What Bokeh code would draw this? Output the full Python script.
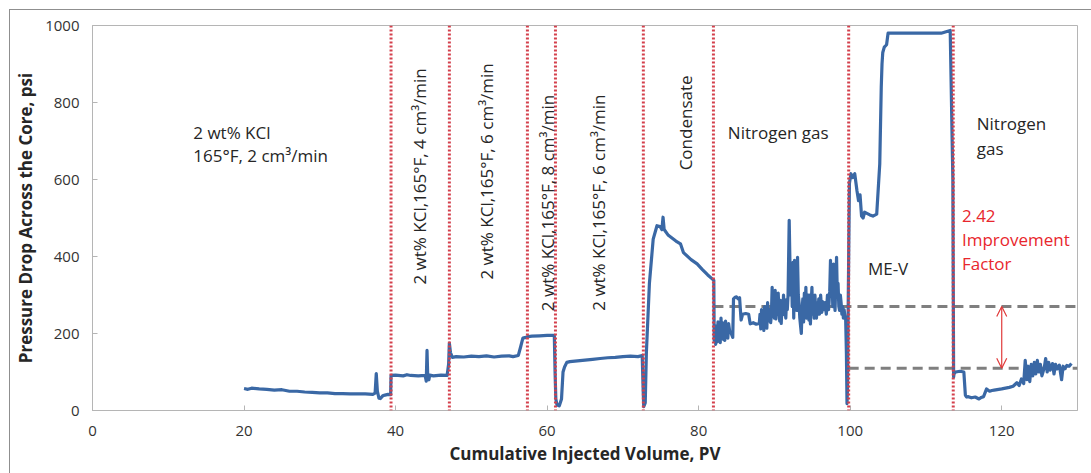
from bokeh.plotting import figure
from bokeh.layouts import column
from bokeh.models import Label, Span, Arrow, OpenHead, ColumnDataSource
from bokeh.embed import file_html
from bokeh.resources import INLINE

# ---------------- data ----------------
pv_kcl_2 = [20.0, 20.5, 21, 22, 23, 24, 25, 26, 27, 28, 29, 30, 31, 32, 33, 34, 35, 36, 37, 37.3, 37.45, 37.6, 37.8, 38.0, 38.3, 38.6, 39.0, 39.35]
dp_kcl_2 = [57, 55, 58, 56, 55, 53, 54, 50, 50, 48, 47, 46, 46, 44, 44, 43, 43, 43, 42, 45, 96, 50, 32, 31, 38, 40, 42, 41]

pv_kcl_4 = [39.4, 40, 41, 41.5, 42, 43, 43.9, 44.05, 44.15, 44.25, 44.4, 44.5, 45, 46, 46.8]
dp_kcl_4 = [91, 92, 90, 93, 91, 90, 91, 76, 156, 84, 80, 92, 90, 92, 91]

pv_kcl_6a = [47.0, 47.1, 47.25, 47.5, 48, 49, 50, 51, 52, 53, 54, 55, 55.5, 56.2, 56.5, 56.8]
dp_kcl_6a = [120, 175, 150, 138, 140, 139, 141, 140, 142, 139, 141, 142, 140, 143, 165, 188]

pv_kcl_8 = [57.2, 57.5, 58, 59, 60, 60.95]
dp_kcl_8 = [190, 192, 193, 194, 195, 195]

pv_kcl_6b = [61.05, 61.15, 61.3, 61.6, 61.9, 62.1, 62.3, 62.6, 63, 64, 65, 66, 67, 68, 69, 70, 71, 72, 72.55]
dp_kcl_6b = [100, 30, 15, 12, 30, 100, 113, 125, 127, 129, 131, 133, 135, 137, 138, 140, 141, 140, 143]

pv_cond = [72.65, 72.75, 72.95, 73.1, 73.5, 74.0, 74.5, 74.9, 75.15, 75.3, 75.45, 76, 77, 77.6, 78, 79, 79.8, 80.5, 81.2, 81.9]
dp_cond = [70, 10, 20, 150, 330, 445, 480, 478, 470, 502, 470, 455, 440, 433, 410, 392, 381, 366, 352, 340]

pv_n2_a = [82.0, 82.05, 82.15, 82.25, 82.35, 82.45, 82.55, 82.65, 82.75, 82.85, 82.95, 83.05, 83.15, 83.25, 83.35, 83.45, 83.55, 83.65, 83.75, 83.85, 83.95, 84.1, 84.3, 84.5, 84.6, 84.8, 85.0, 85.2, 85.4, 85.6, 85.8, 86.2, 86.6, 86.8, 87.2, 87.6, 88.0, 88.1, 88.2, 88.3, 88.4, 88.5, 88.6, 88.7, 88.8, 88.9, 89.0, 89.1, 89.2, 89.35, 89.5, 89.6, 89.7, 89.8, 89.9, 90.0, 90.1, 90.2, 90.3, 90.4, 90.5, 90.6, 90.7, 90.8, 90.9, 91.0, 91.1, 91.2, 91.3, 91.4, 91.5, 91.6, 91.7, 91.8, 91.95, 92.05, 92.15, 92.25, 92.35, 92.45, 92.55, 92.65, 92.75, 92.85, 92.95, 93.05, 93.15, 93.25, 93.35, 93.45, 93.55, 93.65, 93.75, 93.85, 93.95, 94.05, 94.15, 94.25, 94.35, 94.45, 94.55, 94.65, 94.75, 94.85, 94.95, 95.05, 95.15, 95.25, 95.35, 95.45, 95.55, 95.65, 95.75, 95.85, 95.95, 96.1, 96.25, 96.4, 96.55, 96.7, 96.85, 97.0, 97.15, 97.3, 97.4, 97.5, 97.6, 97.7, 97.8, 97.9, 98.0, 98.1, 98.2, 98.3, 98.4, 98.5, 98.6, 98.7, 98.8, 98.9, 99.0, 99.1, 99.2, 99.3, 99.4, 99.5, 99.58, 99.65, 99.75]
dp_n2_a = [338, 182, 205, 172, 220, 178, 230, 190, 200, 176, 240, 195, 228, 185, 215, 182, 232, 196, 210, 188, 226, 205, 200, 190, 290, 294, 295, 290, 293, 235, 250, 252, 250, 225, 228, 224, 226, 250, 212, 262, 218, 248, 208, 270, 222, 255, 214, 280, 232, 262, 228, 248, 320, 245, 300, 240, 312, 238, 290, 252, 305, 258, 232, 286, 226, 275, 248, 300, 256, 268, 240, 288, 262, 300, 494, 380, 300, 375, 270, 385, 240, 390, 300, 330, 260, 398, 300, 280, 240, 220, 200, 262, 290, 230, 305, 250, 320, 240, 280, 300, 235, 300, 225, 275, 320, 250, 290, 240, 300, 255, 240, 280, 250, 290, 250, 300, 255, 282, 262, 280, 250, 300, 262, 310, 390, 300, 360, 270, 380, 300, 260, 330, 398, 300, 330, 270, 260, 300, 280, 250, 270, 240, 262, 245, 240, 150, 18, 60]

pv_mev = [99.9, 100.1, 100.3, 100.6, 100.9, 101.1, 101.3, 101.5, 101.7, 101.9, 102.2, 102.6, 103.0, 103.5, 103.9, 104.1, 104.2, 104.3, 104.5, 104.8, 105.0, 105.3, 106, 108, 110, 112, 113.2, 113.55]
dp_mev = [300, 590, 615, 605, 615, 570, 545, 560, 505, 500, 515, 512, 508, 505, 510, 640, 840, 900, 930, 944, 950, 980, 980, 980, 980, 980, 980, 987]

pv_n2_b = [113.65, 113.7, 113.9, 114.5, 115.0, 115.2, 115.35, 115.6, 116, 116.5, 117, 117.3, 117.6, 118, 118.4, 118.7, 119, 120, 121, 121.5, 122, 122.3, 122.6, 122.9, 123.1, 123.3, 123.5, 123.7, 123.9, 124.1, 124.3, 124.5, 124.7, 124.9, 125.1, 125.3, 125.6, 125.8, 126.0, 126.2, 126.4, 126.7, 126.9, 127.1, 127.3, 127.6, 127.9, 128.1, 128.3, 128.6, 128.9, 129.2, 129.7]
dp_n2_b = [600, 87, 95, 100, 102, 100, 40, 35, 36, 33, 35, 30, 34, 36, 56, 50, 52, 53, 56, 60, 63, 72, 65, 82, 70, 130, 80, 115, 75, 120, 90, 125, 95, 130, 100, 120, 90, 110, 135, 100, 125, 105, 122, 95, 120, 108, 118, 80, 115, 108, 117, 115, 122]

stage_boundaries = [39.4, 47.1, 57.4, 61.1, 72.7, 81.95, 99.8, 113.6]
baseline_levels = [270, 110]
baseline_starts = [81.95, 99.8]
arrow_x = 120

x_ticks = [0, 20, 40, 60, 80, 100, 120]
y_ticks = [0, 200, 400, 600, 800, 1000]

pv = pv_kcl_2 + pv_kcl_4 + pv_kcl_6a + pv_kcl_8 + pv_kcl_6b + pv_cond + pv_n2_a + pv_mev + pv_n2_b
dp = dp_kcl_2 + dp_kcl_4 + dp_kcl_6a + dp_kcl_8 + dp_kcl_6b + dp_cond + dp_n2_a + dp_mev + dp_n2_b

# ---------------- figure ----------------
FONT = "Open Sans"
TXT = "#262626"
p = figure(width=1081, height=463, x_range=(0, 130), y_range=(0, 1000),
           output_backend="svg", toolbar_location=None,
           min_border_left=82, min_border_right=14, min_border_top=15, min_border_bottom=63)
p.background_fill_color = "white"
p.border_fill_color = "white"
p.outline_line_color = "#b5b5b5"
p.outline_line_width = 1
p.xgrid.visible = False
p.ygrid.visible = False

for ax in (p.xaxis[0], p.yaxis[0]):
    ax.axis_line_color = "#b5b5b5"
    ax.major_tick_line_color = "#b5b5b5"
    ax.major_tick_in = 5
    ax.major_tick_out = 0
    ax.minor_tick_line_color = None
    ax.major_label_text_font = FONT
    ax.major_label_text_font_size = "15px"
    ax.major_label_text_color = "#333333"
    ax.axis_label_text_font = FONT
    ax.axis_label_text_font_size = "17px"
    ax.axis_label_text_font_style = "bold"
    ax.axis_label_text_color = TXT

p.xaxis.ticker = x_ticks
p.yaxis.ticker = y_ticks
p.xaxis.axis_label = "Cumulative Injected Volume, PV"
p.yaxis.axis_label = "Pressure Drop Across the Core, psi"
p.xaxis.major_label_standoff = 15
p.yaxis.major_label_standoff = 13
p.xaxis.axis_label_standoff = 3
p.yaxis.axis_label_standoff = 5

# stage boundaries
for xb in stage_boundaries:
    p.add_layout(Span(location=xb, dimension="height", line_color="#d4404c",
                      line_width=3, line_dash="2 2"))

# baselines
for lvl, x0 in zip(baseline_levels, baseline_starts):
    p.line([x0, 130], [lvl, lvl], line_color="#7f7f7f", line_width=3, line_dash="10 6")

# data
src = ColumnDataSource(dict(pv=pv, dp=dp))
p.line("pv", "dp", source=src, line_color="#3a68a5", line_width=3.2, line_join="round")

# improvement arrow
p.add_layout(Arrow(x_start=arrow_x, y_start=baseline_levels[1], x_end=arrow_x, y_end=baseline_levels[0],
                   line_color="#e03a3a", line_width=1.2,
                   start=OpenHead(size=10, line_color="#e03a3a", line_width=1.2),
                   end=OpenHead(size=10, line_color="#e03a3a", line_width=1.2)))

def lab(x, y, t, align="left", angle=0, color=TXT, size="17px"):
    p.add_layout(Label(x=x, y=y, text=t, text_align=align, text_baseline="middle",
                       angle=angle, angle_units="deg", text_font=FONT,
                       text_font_size=size, text_color=color))

lab(13.3, 723, "2 wt% KCl")
lab(13.3, 662, "165°F, 2 cm³/min")
lab(43.2, 608, "2 wt% KCl,165°F, 4 cm³/min", align="center", angle=90)
lab(52.0, 621, "2 wt% KCl,165°F, 6 cm³/min", align="center", angle=90)
lab(60.0, 539, "2 wt% KCl,165°F, 8 cm³/min", align="center", angle=90)
lab(66.8, 540, "2 wt% KCl,165°F, 6 cm³/min", align="center", angle=90)
lab(78.2, 747, "Condensate", align="center", angle=90)
lab(90.5, 723, "Nitrogen gas", align="center")
lab(105.0, 369, "ME-V", align="center")
lab(116.7, 745, "Nitrogen")
lab(116.7, 680, "gas")
red = "#e8262d"
lab(114.75, 506, "2.42", color=red)
lab(114.75, 444, "Improvement", color=red)
lab(114.75, 382, "Factor", color=red)

# outer frame of the picture (left and top edges visible)
page = column(p, styles={"margin-left": "10px", "margin-top": "10px",
                         "outline": "1px solid #8f8f8f",
                         "box-shadow": "-1px -1px 0px 0px #8f8f8f"})

open("out.html", "w").write(file_html(page, INLINE))
